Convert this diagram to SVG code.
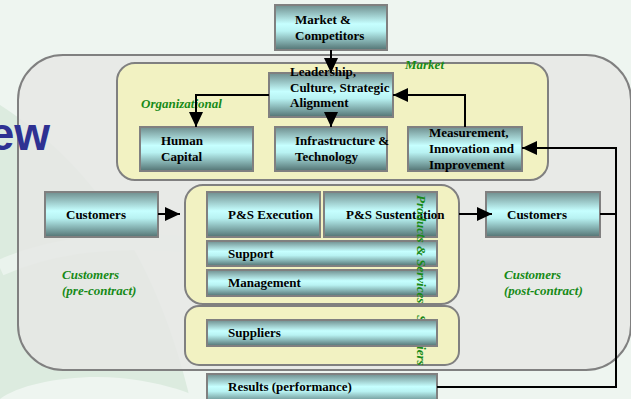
<svg xmlns="http://www.w3.org/2000/svg" width="631" height="399" viewBox="0 0 631 399">
  <defs>
    <style>
      .box { fill: url(#boxFill); stroke: #808080; stroke-width: 2; }
      .zone { fill: #f2f2c2; stroke: #808080; stroke-width: 2; }
      .lbl { font-family: "Liberation Serif", "Times New Roman", serif; font-weight: bold; font-size: 13px; fill: #000; }
      .area { font-family: "Liberation Serif", "Times New Roman", serif; font-weight: bold; font-style: italic; font-size: 13px; fill: #178a17; }
      .conn { fill: none; stroke: #000; stroke-width: 2; }
    </style>
    <linearGradient id="boxFill" x1="0" y1="0" x2="0" y2="1">
      <stop offset="0" stop-color="#6f8e8e"/>
      <stop offset="0.42" stop-color="#c6ffff"/>
      <stop offset="0.58" stop-color="#b8f2f2"/>
      <stop offset="1" stop-color="#537373"/>
    </linearGradient>
    <marker id="arrow" viewBox="0 0 15 14" refX="15" refY="7" markerWidth="15" markerHeight="14" orient="auto" markerUnits="userSpaceOnUse">
      <path d="M0,0 L15,7 L0,14 Z" fill="#000"/>
    </marker>
  </defs>

  <!-- backdrop -->
  <rect width="631" height="399" fill="#eef5f0"/>
  <path d="M0,105 C70,150 150,230 190,399 L0,399 Z" fill="#dcebdf"/>
  <path d="M0,268 C50,245 120,236 200,246" fill="none" stroke="#eaf3ed" stroke-width="16"/>
  <path d="M0,399 C20,384 70,374 120,378 C160,382 190,392 200,399 Z" fill="#eef5f0"/>

  <!-- enterprise boundary -->
  <rect x="18" y="55" width="613" height="315" rx="45" fill="#e6e8e5" fill-opacity="0.85" stroke="#808080" stroke-width="2"/>
  <text x="50" y="150" text-anchor="end" font-family="Liberation Sans, Arial, sans-serif" font-weight="bold" font-size="46" fill="#2e3192">ew</text>

  <!-- zones -->
  <g id="zone-market">
    <rect class="zone" x="117" y="63" width="431" height="117" rx="18"/>
    <text class="area" x="405" y="69">Market</text>
    <text class="area" x="141" y="108">Organizational</text>
  </g>
  <g id="zone-ps">
    <rect class="zone" x="185" y="185" width="274" height="119" rx="18"/>
  </g>
  <g id="zone-suppliers">
    <rect class="zone" x="185" y="306" width="274" height="59" rx="14"/>
    <text class="area" transform="translate(417,315) rotate(90)">Suppliers</text>
  </g>

  <!-- nodes -->
  <g id="market-competitors">
    <rect class="box" x="275" y="5" width="112" height="45"/>
    <text class="lbl" x="295" y="24">Market &amp;</text>
    <text class="lbl" x="295" y="40">Competitors</text>
  </g>
  <g id="leadership">
    <rect class="box" x="269" y="73" width="124" height="44"/>
    <text class="lbl" x="290" y="76">Leadership,</text>
    <text class="lbl" x="290" y="92">Culture, Strategic</text>
    <text class="lbl" x="290" y="107">Alignment</text>
  </g>
  <g id="human-capital">
    <rect class="box" x="140" y="127" width="113" height="44"/>
    <text class="lbl" x="161" y="145">Human</text>
    <text class="lbl" x="161" y="161">Capital</text>
  </g>
  <g id="infrastructure">
    <rect class="box" x="275" y="127" width="112" height="44"/>
    <text class="lbl" x="295" y="145">Infrastructure &amp;</text>
    <text class="lbl" x="295" y="161">Technology</text>
  </g>
  <g id="measurement">
    <rect class="box" x="408" y="127" width="114" height="44"/>
    <text class="lbl" x="429" y="137">Measurement,</text>
    <text class="lbl" x="429" y="153">Innovation and</text>
    <text class="lbl" x="429" y="169">Improvement</text>
  </g>
  <g id="customers-pre">
    <rect class="box" x="45" y="192" width="113" height="45"/>
    <text class="lbl" x="66" y="219">Customers</text>
    <text class="area" x="62" y="279">Customers</text>
    <text class="area" x="62" y="295">(pre-contract)</text>
  </g>
  <g id="ps-execution">
    <rect class="box" x="207" y="192" width="113" height="45"/>
    <text class="lbl" x="228" y="219">P&amp;S Execution</text>
  </g>
  <g id="ps-sustentation">
    <rect class="box" x="324" y="192" width="113" height="45"/>
    <text class="lbl" x="346" y="219">P&amp;S Sustentation</text>
  </g>
  <g id="support">
    <rect class="box" x="207" y="241" width="230" height="25"/>
    <text class="lbl" x="228" y="258">Support</text>
  </g>
  <g id="management">
    <rect class="box" x="207" y="270" width="230" height="26"/>
    <text class="lbl" x="228" y="287">Management</text>
  </g>
  <g id="suppliers">
    <rect class="box" x="207" y="320" width="230" height="26"/>
    <text class="lbl" x="228" y="337">Suppliers</text>
  </g>
  <g id="results">
    <rect class="box" x="207" y="374" width="230" height="30"/>
    <text class="lbl" x="228" y="391">Results (performance)</text>
  </g>
  <g id="customers-post">
    <rect class="box" x="486" y="192" width="114" height="45"/>
    <text class="lbl" x="507" y="219">Customers</text>
    <text class="area" x="504" y="279">Customers</text>
    <text class="area" x="504" y="295">(post-contract)</text>
  </g>
  <g id="ps-label">
    <text class="area" transform="translate(417,195) rotate(90)">Products &amp; Services</text>
  </g>

  <!-- connectors -->
  <g id="connectors">
    <path class="conn" d="M331,50 V73" marker-end="url(#arrow)"/>
    <path class="conn" d="M269,95 H196 V127" marker-end="url(#arrow)"/>
    <path class="conn" d="M331,112 V127" marker-end="url(#arrow)"/>
    <path class="conn" d="M465,127 V95 H393" marker-end="url(#arrow)"/>
    <path class="conn" d="M437,387 H616 V148 H522" marker-end="url(#arrow)"/>
    <path class="conn" d="M600,214 H616"/>
    <path class="conn" d="M158,214 H180" marker-end="url(#arrow)"/>
    <path class="conn" d="M459,214 H492" marker-end="url(#arrow)"/>
  </g>
</svg>
